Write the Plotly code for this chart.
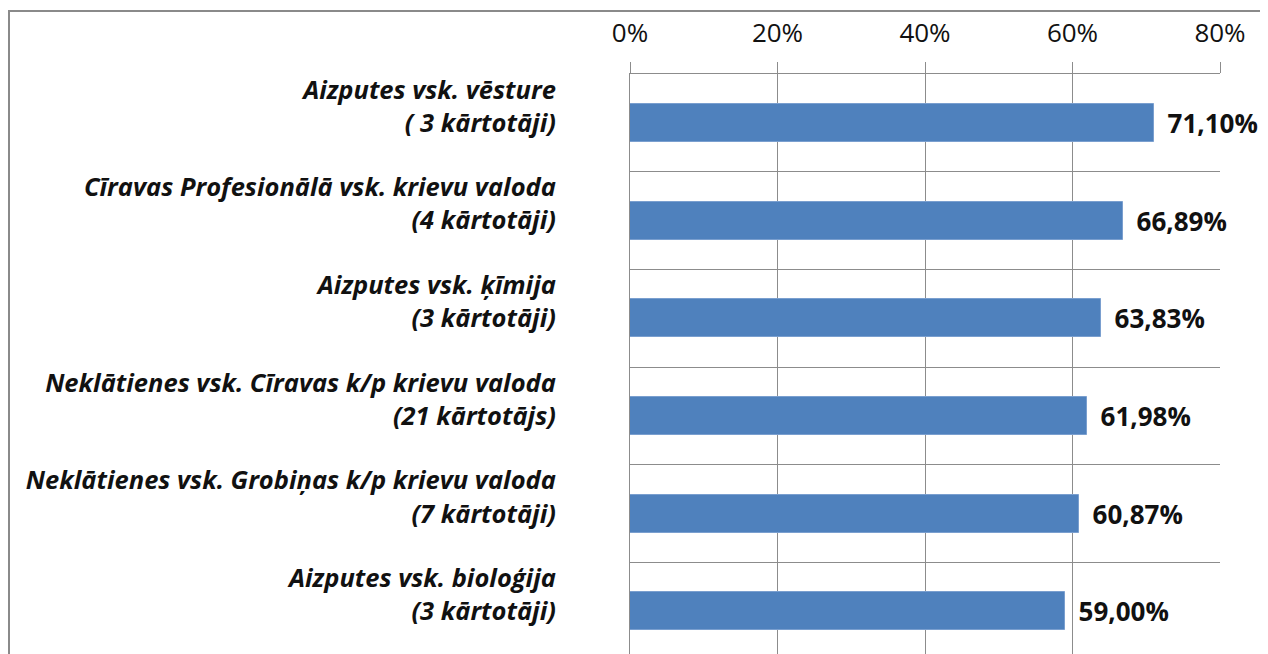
import plotly.graph_objects as go

categories = [
    "Aizputes vsk. vēsture<br>( 3 kārtotāji)",
    "Cīravas Profesionālā vsk. krievu valoda<br>(4 kārtotāji)",
    "Aizputes vsk. ķīmija<br>(3 kārtotāji)",
    "Neklātienes vsk. Cīravas k/p krievu valoda<br>(21 kārtotājs)",
    "Neklātienes vsk. Grobiņas k/p krievu valoda<br>(7 kārtotāji)",
    "Aizputes vsk. bioloģija<br>(3 kārtotāji)",
]
values = [71.10, 66.89, 63.83, 61.98, 60.87, 59.00]
x_ticks = [0, 20, 40, 60, 80]
x_ticktext = ["0%", "20%", "40%", "60%", "80%"]

labels = ["\u00a0\u2009" + f"{v:.2f}".replace(".", ",") + "%" for v in values]
# Excel puts the 2-line category labels a bit above the bar centre;
# an invisible third line lifts the block the same way
tick_labels = [c + "<br>\u00a0" for c in categories]

# page body has an 8px margin, so the figure is a bit smaller than the window
W, H = 1260, 646
left, right, top = 622, 1212, 66
band = 97.7  # pixels per category
plot_h = H - top

fig = go.Figure()
fig.add_trace(go.Bar(
    x=values, y=categories, orientation="h", width=0.39,
    marker=dict(color="#4F81BD", line=dict(color="#7A9FCF", width=1)),
    text=labels, textposition="outside", cliponaxis=False,
    textfont=dict(family="Open Sans", size=26, color="#111111", weight="bold"),
))

fig.update_layout(
    width=W, height=H,
    margin=dict(l=left, r=W - right, t=top, b=0, autoexpand=False),
    plot_bgcolor="white", paper_bgcolor="white",
    showlegend=False,
    bargap=0,
    xaxis=dict(
        side="top", range=[0, 80], tickvals=x_ticks, ticktext=x_ticktext,
        showgrid=True, gridcolor="#8C8C8C", gridwidth=1,
        ticks="outside", ticklen=11, tickcolor="#8C8C8C",
        showline=True, linecolor="#8C8C8C", linewidth=1,
        tickfont=dict(family="Open Sans", size=26, color="#111111"),
        ticklabelstandoff=10, zeroline=False, fixedrange=True,
    ),
    yaxis=dict(
        type="category", tickson="boundaries",
        tickvals=categories, ticktext=tick_labels,
        range=[-0.5 + plot_h / band, -0.5],
        showgrid=True, gridcolor="#8C8C8C", gridwidth=1,
        showline=True, linecolor="#8C8C8C", linewidth=1,
        ticks="", ticklabelstandoff=68,
        tickfont=dict(family="Open Sans", size=25.5, color="#111111",
                      weight="bold", style="italic"),
        fixedrange=True,
    ),
)

# outer chart border (Excel style frame)
fig.add_shape(
    type="rect", xref="paper", yref="paper",
    x0=(1 - left) / (right - left), x1=1.2,
    y0=-0.2, y1=1 + (top - 3) / plot_h,
    line=dict(color="#8A8A8A", width=2), fillcolor="rgba(0,0,0,0)",
)

fig.write_html("out.html")
